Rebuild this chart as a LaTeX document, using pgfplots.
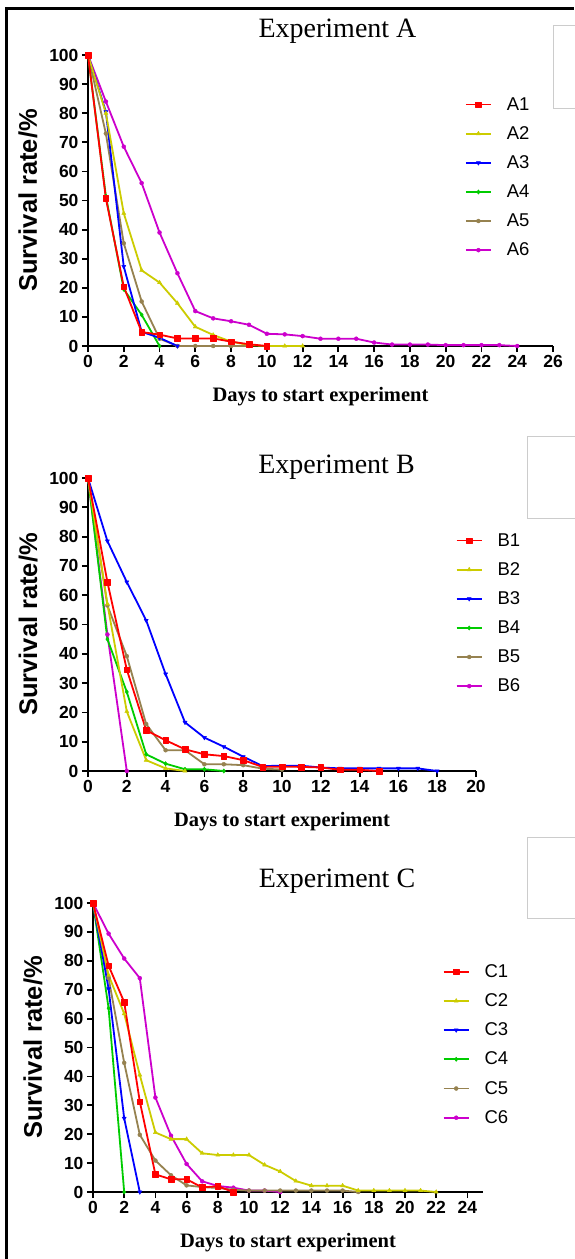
\documentclass[border=0pt]{standalone}
\usepackage{pgfplots}
\pgfplotsset{compat=1.18}
\usepackage{fontspec}
\setmainfont{Liberation Serif}
\newfontfamily\arial{Liberation Sans}

\definecolor{cA}{RGB}{255,0,0}
\definecolor{cB}{RGB}{204,204,0}
\definecolor{cC}{RGB}{0,0,255}
\definecolor{cD}{RGB}{0,204,0}
\definecolor{cE}{RGB}{150,130,80}
\definecolor{cF}{RGB}{204,0,204}

\pgfplotsset{
  s1/.style={color=cA, line width=1.8pt, mark=square*, mark size=2.8pt, mark options={solid,line width=0.4pt}},
  s2/.style={color=cB, line width=1.8pt, mark=triangle*, mark size=2.4pt, mark options={solid,line width=0.4pt}},
  s3/.style={color=cC, line width=1.8pt, mark=triangle*, mark size=2.4pt, mark options={solid,line width=0.4pt,rotate=180}},
  s4/.style={color=cD, line width=1.8pt, mark=diamond*, mark size=2.2pt, mark options={solid,line width=0.4pt}},
  s5/.style={color=cE, line width=1.8pt, mark=*, mark size=2pt, mark options={solid,line width=0.4pt}},
  s6/.style={color=cF, line width=1.8pt, mark=*, mark size=2pt, mark options={solid,line width=0.4pt}},
  surv/.style={
    scale only axis, anchor=south west, clip=false,
    axis x line*=bottom, axis y line*=left,
    xtick align=outside, ytick align=outside,
    axis line style={line width=2.4pt,-},
    every tick/.style={black, line width=1.8pt},
    major tick length=6pt,
    ymin=0, ymax=100, ytick={0,10,...,100},
    /pgf/number format/assume math mode=true,
    tick label style={font=\arial\bfseries\fontsize{17.5}{17.5}\selectfont},
    ylabel={Survival rate/\%},
    ylabel style={font=\arial\bfseries\fontsize{25.5}{25.5}\selectfont, anchor=base},
    xlabel={Days to start experiment},
    xlabel style={font=\bfseries\fontsize{20.5}{20.5}\selectfont, at={(axis description cs:0.5,0)}, anchor=base, yshift=-55pt},
    legend cell align=left,
    legend style={draw=none, fill=none, inner sep=0pt, outer sep=0pt, anchor=north west,
      font=\arial\fontsize{18.5}{18.5}\selectfont, column sep=15pt, row sep=14.8pt, nodes={inner sep=0pt}},
    legend image code/.code={
      \draw[##1, mark=none] (0pt,0pt) -- (25pt,0pt);
      \draw[##1, only marks] plot coordinates {(12.5pt,0pt)};},
    every axis plot/.append style={line join=round},
  },
}

\begin{document}
\begin{tikzpicture}
\path[use as bounding box] (0,0) rectangle (574pt,-1259pt);
\fill[white] (0,0) rectangle (574pt,-1259pt);
\draw[line width=2.5pt] (6.5pt,-1259pt) -- (6.5pt,-8.5pt) -- (574pt,-8.5pt);
\draw[black!20, line width=0.8pt] (553pt,-25pt) rectangle (580pt,-108pt);
\draw[black!20, line width=0.8pt] (527pt,-436pt) rectangle (580pt,-518pt);
\draw[black!20, line width=0.8pt] (527pt,-837pt) rectangle (580pt,-918pt);

\node[anchor=base, font=\fontsize{28}{28}\selectfont] at (337.5pt,-37pt) {Experiment A};
\node[anchor=base, font=\fontsize{28}{28}\selectfont] at (336.5pt,-473pt) {Experiment B};
\node[anchor=base, font=\fontsize{28}{28}\selectfont] at (337pt,-887pt) {Experiment C};

% Experiment A
\begin{axis}[surv, at={(88pt,-346pt)}, width=465pt, height=291pt,
  xmin=0, xmax=26, xtick={0,2,...,26},
  ylabel style={at={(axis description cs:-0.1097,0.5)}},
  legend style={at={(axis description cs:0.8108,0.954)}}]
\addlegendimage{empty legend}
\addlegendimage{s1}\addlegendimage{s2}\addlegendimage{s3}
\addlegendimage{s4}\addlegendimage{s5}\addlegendimage{s6}
\addplot[s6, forget plot] coordinates {(0,100)(1,84)(2,68.5)(3,56)(4,39)(5,25)(6,12)(7,9.5)(8,8.5)(9,7.3)(10,4.2)(11,4)(12,3.4)(13,2.5)(14,2.5)(15,2.5)(16,1.2)(17,0.5)(18,0.5)(19,0.5)(20,0.3)(21,0.3)(22,0.3)(23,0.3)(24,0)};
\addplot[s5, forget plot] coordinates {(0,100)(1,73)(2,35.3)(3,15.3)(4,2.5)(5,0)(6,0)(7,0)(8,0)(9,0)};
\addplot[s4, forget plot] coordinates {(0,100)(1,51.5)(2,19.5)(3,10.7)(4,0)};
\addplot[s3, forget plot] coordinates {(0,100)(1,80.5)(2,27.3)(3,4.9)(4,2.8)(5,0)};
\addplot[s2, forget plot] coordinates {(0,100)(1,80)(2,45.6)(3,26)(4,21.8)(5,14.7)(6,6.6)(7,3.8)(8,1.5)(9,0.3)(10,0)(11,0)(12,0)};
\addplot[s1, forget plot] coordinates {(0,100)(1,50.7)(2,20.4)(3,4.8)(4,3.9)(5,2.6)(6,2.6)(7,2.6)(8,1.5)(9,0.6)(10,0)};
\legend{\phantom{A1},A1,A2,A3,A4,A5,A6}
\end{axis}

% Experiment B
\begin{axis}[surv, at={(88pt,-771pt)}, width=388pt, height=293pt,
  xmin=0, xmax=20, xtick={0,2,...,20},
  ylabel style={at={(axis description cs:-0.1314,0.5)}},
  legend style={at={(axis description cs:0.948,0.811)}}]
\addlegendimage{s1}\addlegendimage{s2}\addlegendimage{s3}
\addlegendimage{s4}\addlegendimage{s5}\addlegendimage{s6}
\addplot[s6, forget plot] coordinates {(0,100)(1,46.6)(2,0)};
\addplot[s5, forget plot] coordinates {(0,100)(1,56.5)(2,39.2)(3,16)(4,7.1)(5,7.1)(6,2.3)(7,2.3)(8,2)(9,0.8)(10,0.5)};
\addplot[s4, forget plot] coordinates {(0,100)(1,45)(2,27)(3,5.7)(4,2.5)(5,0.6)(6,0.6)(7,0)};
\addplot[s3, forget plot] coordinates {(0,100)(1,78.5)(2,64.5)(3,51.4)(4,33.1)(5,16.6)(6,11.4)(7,8.3)(8,4.9)(9,1.7)(10,1.8)(11,1.8)(12,1.2)(13,0.9)(14,0.9)(15,0.9)(16,0.9)(17,0.9)(18,0)};
\addplot[s2, forget plot] coordinates {(0,100)(1,57)(2,20.3)(3,3.7)(4,0.9)(5,0)};
\addplot[s1, forget plot] coordinates {(0,100)(1,64.5)(2,34.6)(3,13.9)(4,10.5)(5,7.4)(6,5.7)(7,5.1)(8,3.7)(9,1.4)(10,1.5)(11,1.4)(12,1.2)(13,0.4)(14,0.4)(15,0)};
\legend{B1,B2,B3,B4,B5,B6}
\end{axis}

% Experiment C
\begin{axis}[surv, at={(93pt,-1192pt)}, width=390pt, height=289pt,
  xmin=0, xmax=25, xtick={0,2,...,24},
  ylabel style={at={(axis description cs:-0.1308,0.5)}},
  legend style={at={(axis description cs:0.897,0.7875)}}]
\addlegendimage{s1}\addlegendimage{s2}\addlegendimage{s3}
\addlegendimage{s4}\addlegendimage{s5}\addlegendimage{s6}
\addplot[s6, forget plot] coordinates {(0,100)(1,89.4)(2,80.8)(3,74)(4,32.7)(5,19.5)(6,9.7)(7,3.7)(8,2.1)(9,1.5)(10,0.5)(11,0.5)(12,0)};
\addplot[s5, forget plot] coordinates {(0,100)(1,74)(2,44.7)(3,19.8)(4,10.9)(5,5.8)(6,2.3)(7,1.7)(8,1.4)(9,0.8)(10,0.5)(11,0.5)(12,0.5)(13,0.5)(14,0.5)(15,0.5)(16,0.5)(17,0)};
\addplot[s4, forget plot] coordinates {(0,100)(1,63.6)(2,0)};
\addplot[s3, forget plot] coordinates {(0,100)(1,70.3)(2,25.5)(3,0)};
\addplot[s2, forget plot] coordinates {(0,100)(1,75)(2,61.7)(3,40.5)(4,20.6)(5,18.3)(6,18.3)(7,13.4)(8,12.8)(9,12.8)(10,12.8)(11,9.4)(12,7.1)(13,3.8)(14,2.2)(15,2.2)(16,2.2)(17,0.5)(18,0.5)(19,0.5)(20,0.5)(21,0.5)(22,0)};
\addplot[s1, forget plot] coordinates {(0,100)(1,78.3)(2,65.7)(3,31.3)(4,6.1)(5,4.4)(6,4.4)(7,1.6)(8,2)(9,0)};
\legend{C1,C2,C3,C4,C5,C6}
\end{axis}
\end{tikzpicture}
\end{document}
